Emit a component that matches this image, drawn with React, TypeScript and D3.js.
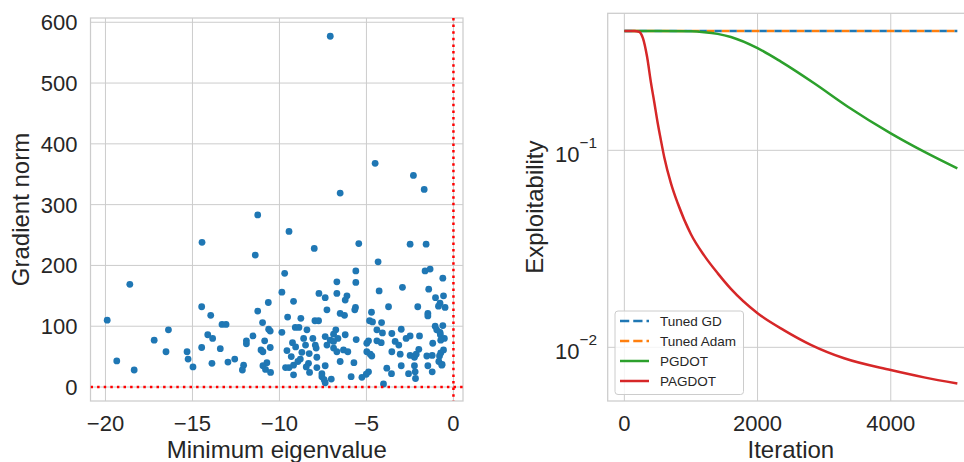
import React from 'react';
import * as d3 from 'd3';

const width = 964;
const height = 462;
const textColor = '#262626';
const gridColor = '#cccccc';
const font = '"Liberation Sans", Arial, sans-serif';

// left panel: minimum eigenvalue vs gradient norm
const eigenvalues = [
  -7.08, -4.5, -2.3, -1.68, -6.51, -11.25, -9.45, -14.45, -5.44, -2.49, -1.57, -8.0, -11.39, -4.33, -18.6, -19.9,
  -5.61, -1.63, -1.34, -9.7, -0.61, -6.7, -5.61, -2.93, -9.86, -4.27, -7.73, -6.7, -1.42, -6.12, -0.57, -7.37,
  -6.22, -1.03, -9.19, -10.64, -14.47, -3.73, -2.05, -0.77, -0.48, -0.86, -5.63, -5.67, -7.27, -11.25, -6.51, -6.26,
  -4.71, -1.47, -1.47, -13.95, -9.53, -8.77, -7.96, -7.75, -4.82, -4.65, -4.13, -10.97, -13.3, -13.07, -1.05, -0.61,
  -9.09, -8.88, -16.38, -10.62, -10.53, -8.42, -6.76, -4.4, -4.08, -3.0, -0.96, -0.77, -9.86, -3.54, -6.89, -7.37,
  -6.22, -11.52, -14.12, -13.84, -2.49, -1.95, -0.75, -0.52, -0.73, -17.2, -11.9, -10.85, -8.61, -8.08, -5.59, -4.88,
  -4.4, -4.15, -3.35, -2.72, -6.64, -11.9, -9.25, -7.08, -6.89, -7.27, -7.94, -4.98, -3.14, -1.19, -9.07, -8.5,
  -7.89, -10.53, -13.4, -14.47, -6.89, -6.32, -6.07, -6.7, -9.57, -15.31, -16.52, -11.06, -10.95, -4.98, -4.78, -4.69,
  -3.54, -3.06, -2.49, -2.24, -2.14, -1.99, -1.53, -1.22, -0.57, -0.73, -0.8, -0.84, -0.65, -8.71, -8.29, -9.32,
  -8.8, -7.85, -19.35, -15.25, -12.57, -12.96, -13.88, -6.51, -5.72, -10.72, -12.06, -10.95, -8.33, -8.46, -9.19, -8.94,
  -3.0, -2.24, -1.47, -0.67, -14.97, -9.65, -9.45, -7.85, -7.37, -3.83, -12.13, -18.35, -10.8, -8.27, -7.56, -1.22,
  -10.51, -2.2, -2.58, -3.56, -4.88, -5.01, -9.19, -7.56, -5.26, -5.88, -7.02, -7.43, -7.37, -2.18, -4.02,
];
const gradNorms = [
  577, 368, 348, 325, 319, 283, 256, 238, 236, 235, 235, 228, 217, 206, 169, 110,
  191, 191, 194, 187, 179, 173, 172, 164, 156, 158, 154, 154, 161, 150, 150, 147,
  143, 147, 141, 139, 132, 132, 132, 138, 131, 133, 131, 127, 127, 125, 121, 118,
  123, 121, 117, 118, 115, 113, 109, 109, 109, 107, 106, 106, 103, 103, 100, 101,
  98, 98, 94, 95, 92, 94, 94, 94, 89, 95, 94, 90, 90, 88, 87, 83,
  86, 84, 86, 80, 84, 84, 86, 80, 77, 77, 76, 76, 80, 80, 78, 76,
  76, 73, 75, 80, 80, 71, 73, 77, 75, 69, 69, 72, 69, 72, 66, 69,
  64, 65, 63, 65, 64, 61, 58, 58, 60, 58, 58, 61, 58, 58, 54, 51,
  58, 54, 52, 49, 54, 62, 51, 52, 61, 56, 51, 42, 37, 57, 55, 50,
  46, 49, 43, 46, 46, 41, 39, 42, 40, 40, 36, 35, 39, 33, 36, 42,
  35, 35, 35, 36, 33, 32, 32, 32, 35, 31, 28, 28, 29, 24, 22, 25,
  24, 25, 22, 22, 25, 21, 20, 17, 16, 17, 13, 12, 7, 14, 5,
];
const eigTicks = [-20, -15, -10, -5, 0];
const gradTicks = [0, 100, 200, 300, 400, 500, 600];

// right panel: exploitability over iterations
const flatIters = [0, 5000];
const tunedGD = [0.403, 0.403];
const tunedAdam = [0.403, 0.403];
const pgdotIters = [0, 500, 1000, 1200, 1400, 1600, 2000, 2350, 2850, 3350, 4000, 4500, 5000];
const pgdot = [0.403, 0.403, 0.402, 0.398, 0.39, 0.376, 0.33, 0.282, 0.219, 0.167, 0.122, 0.0985, 0.081];
const pagdotIters = [0, 150, 220, 280, 340, 400, 450, 500, 550, 600, 700, 800, 1000, 1200, 1400, 1600, 2000, 2400, 2800, 3300, 4000, 4500, 5000];
const pagdot = [0.403, 0.403, 0.4, 0.37, 0.3, 0.22, 0.175, 0.138, 0.112, 0.092, 0.068, 0.054, 0.0375, 0.0292, 0.0238, 0.0198, 0.0149, 0.0122, 0.0103, 0.0088, 0.00767, 0.00704, 0.00655];
const iterTicks = [0, 2000, 4000];
const logTicks = [0.1, 0.01];
const legendNames = ['Tuned GD', 'Tuned Adam', 'PGDOT', 'PAGDOT'];
const colors = ['#1f77b4', '#ff7f0e', '#2ca02c', '#d62728'];

const left = {x0: 90.5, x1: 463, y0: 18, y1: 401};
const right = {x0: 607.7, x1: 974, y0: 13.3, y1: 401};

const minus = (s: string) => s.replace('-', '\u2212');

export default function App() {
  const x = d3.scaleLinear().domain([-20.86, 0.55]).range([left.x0, left.x1]);
  const y = d3.scaleLinear().domain([-23, 607]).range([left.y1, left.y0]);

  const xr = d3.scaleLinear().domain([-250, 5250]).range([right.x0, right.x1]);
  const yr = d3.scaleLog().domain([0.00534, 0.496]).range([right.y1, right.y0]);

  const line = (xs: number[], ys: number[]) =>
    d3.line<number>()
      .x((d, i) => xr(xs[i]))
      .y(d => yr(d))
      .curve(d3.curveMonotoneX)(ys) as string;

  const series = [
    {xs: flatIters, ys: tunedGD, dash: '7.5,7.5', offset: 0},
    {xs: flatIters, ys: tunedAdam, dash: '7.5,7.5', offset: 7.5},
    {xs: pgdotIters, ys: pgdot, dash: null, offset: 0},
    {xs: pagdotIters, ys: pagdot, dash: null, offset: 0},
  ];

  return (
    <svg width={width} height={height} style={{position: 'absolute', left: 0, top: 0, background: '#fff'}}
      fontFamily={font} fill={textColor}>
      <defs>
        <clipPath id="clipL"><rect x={left.x0} y={left.y0} width={left.x1 - left.x0} height={left.y1 - left.y0} /></clipPath>
        <clipPath id="clipR"><rect x={right.x0} y={right.y0} width={right.x1 - right.x0} height={right.y1 - right.y0} /></clipPath>
      </defs>

      {/* left panel */}
      <g>
        {eigTicks.map(t => (
          <line key={t} x1={x(t)} x2={x(t)} y1={left.y0} y2={left.y1} stroke={gridColor} strokeWidth={1} />
        ))}
        {gradTicks.map(t => (
          <line key={t} x1={left.x0} x2={left.x1} y1={y(t)} y2={y(t)} stroke={gridColor} strokeWidth={1} />
        ))}
        <rect x={left.x0} y={left.y0} width={left.x1 - left.x0} height={left.y1 - left.y0}
          fill="none" stroke={gridColor} strokeWidth={1.25} />
        <g clipPath="url(#clipL)">
          {eigenvalues.map((e, i) => (
            <circle key={i} cx={x(e)} cy={y(gradNorms[i])} r={3.4} fill={colors[0]} />
          ))}
          <line x1={left.x0} x2={left.x1} y1={y(0)} y2={y(0)} stroke="red" strokeWidth={2.5} strokeDasharray="2.5,4.1" />
          <line x1={x(0)} x2={x(0)} y1={left.y0} y2={left.y1} stroke="red" strokeWidth={2.5} strokeDasharray="2.5,4.1" />
        </g>
        {eigTicks.map(t => (
          <text key={t} x={x(t)} y={431} textAnchor="middle" fontSize={22}>{minus(String(t))}</text>
        ))}
        {gradTicks.map(t => (
          <text key={t} x={77.5} y={y(t) + 7.9} textAnchor="end" fontSize={22}>{t}</text>
        ))}
        <text x={(left.x0 + left.x1) / 2} y={458} textAnchor="middle" fontSize={24}>Minimum eigenvalue</text>
        <text transform={`translate(29,${(left.y0 + left.y1) / 2}) rotate(-90)`} textAnchor="middle" fontSize={24}>Gradient norm</text>
      </g>

      {/* right panel */}
      <g>
        {iterTicks.map(t => (
          <line key={t} x1={xr(t)} x2={xr(t)} y1={right.y0} y2={right.y1} stroke={gridColor} strokeWidth={1} />
        ))}
        {logTicks.map(t => (
          <line key={t} x1={right.x0} x2={right.x1} y1={yr(t)} y2={yr(t)} stroke={gridColor} strokeWidth={1} />
        ))}
        <rect x={right.x0} y={right.y0} width={right.x1 - right.x0} height={right.y1 - right.y0}
          fill="none" stroke={gridColor} strokeWidth={1.25} />
        <g clipPath="url(#clipR)">
          {series.map((s, i) => (
            <path key={i} d={line(s.xs, s.ys)} fill="none" stroke={colors[i]} strokeWidth={2.5}
              strokeDasharray={s.dash || undefined} strokeDashoffset={s.offset} />
          ))}
        </g>
        {iterTicks.map(t => (
          <text key={t} x={xr(t)} y={431} textAnchor="middle" fontSize={22}>{t}</text>
        ))}
        {logTicks.map(t => (
          <text key={t} x={597} y={yr(t) + 11.4} textAnchor="end" fontSize={22}>
            10<tspan fontSize={15.4} dy={-14}>{minus(String(Math.round(Math.log10(t))))}</tspan>
          </text>
        ))}
        <text x={(right.x0 + right.x1) / 2} y={458} textAnchor="middle" fontSize={24}>Iteration</text>
        <text transform={`translate(543,${(right.y0 + right.y1) / 2}) rotate(-90)`} textAnchor="middle" fontSize={24}>Exploitability</text>

        {/* legend */}
        <rect x={615} y={311} width={128.5} height={83.5} rx={3} fill="#fff" fillOpacity={0.8} stroke={gridColor} strokeWidth={1} />
        {legendNames.map((name, i) => (
          <g key={name} transform={`translate(0,${321 + i * 20})`}>
            <line x1={620} x2={649} y1={0} y2={0} stroke={colors[i]} strokeWidth={2.5}
              strokeDasharray={i < 2 ? '9.25,4' : undefined} />
            <text x={660} y={4.8} fontSize={13.5}>{name}</text>
          </g>
        ))}
      </g>
    </svg>
  );
}
